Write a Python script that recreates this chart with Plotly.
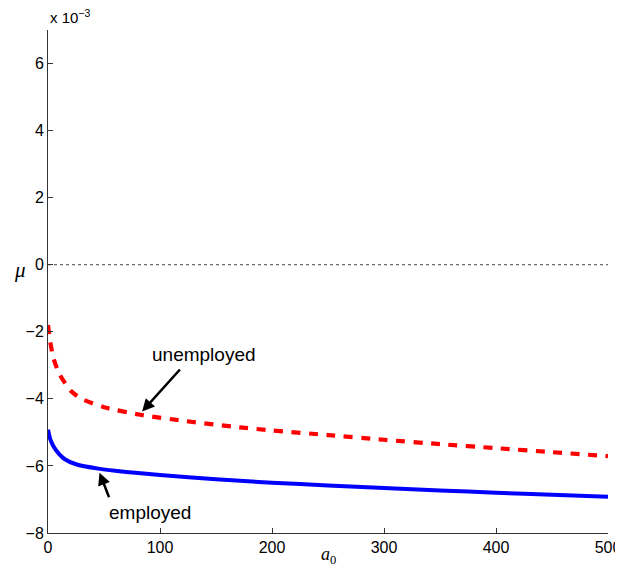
import plotly.graph_objects as go

# a0 grid and mu values (units of 1e-3)
a0_unemp = [0, 2, 5, 10, 20, 30, 50, 85, 120, 171, 200, 250, 300, 350, 400, 450, 500]
mu_unemp = [-1.8, -2.3, -2.8, -3.25, -3.75, -4.0, -4.25, -4.49, -4.65, -4.85, -4.94, -5.08, -5.22, -5.35, -5.47, -5.59, -5.71]

a0_emp = [0, 2, 5, 10, 15, 25, 45, 70, 100, 150, 200, 250, 300, 350, 400, 450, 500]
mu_emp = [-4.92, -5.2, -5.42, -5.65, -5.8, -5.95, -6.08, -6.18, -6.27, -6.4, -6.5, -6.58, -6.66, -6.73, -6.8, -6.86, -6.92]

x_ticks = [0, 100, 200, 300, 400, 500]
y_ticks = [-8, -6, -4, -2, 0, 2, 4, 6]
y_ticklabels = ["\u22128", "\u22126", "\u22124", "\u22122", "0", "2", "4", "6"]

fig = go.Figure()
fig.add_trace(go.Scatter(x=[0, 500], y=[0, 0], mode="lines",
                         line=dict(color="#444", width=1, dash="dot"), hoverinfo="skip"))
fig.add_trace(go.Scatter(x=a0_unemp, y=mu_unemp, mode="lines",
                         line=dict(color="#ff0000", width=4.2, dash="9px,8.5px", shape="spline", smoothing=0.6)))
fig.add_trace(go.Scatter(x=a0_emp, y=mu_emp, mode="lines",
                         line=dict(color="#0000ff", width=4, shape="spline", smoothing=0.6)))

font_ann = dict(family="Liberation Sans, Arial, sans-serif", size=19, color="black")
fig.add_annotation(x=139, y=-2.68, text="unemployed", showarrow=False, font=font_ann, xref="x", yref="y")
fig.add_annotation(x=91, y=-7.38, text="employed", showarrow=False, font=font_ann, xref="x", yref="y")
fig.add_annotation(x=84, y=-4.38, ax=119, ay=-3.08, axref="x", ayref="y", xref="x", yref="y",
                   text="", showarrow=True, arrowhead=2, arrowsize=1, arrowwidth=2.5, arrowcolor="black")
fig.add_annotation(x=46, y=-6.2, ax=55, ay=-6.98, axref="x", ayref="y", xref="x", yref="y",
                   text="", showarrow=True, arrowhead=2, arrowsize=1, arrowwidth=2.5, arrowcolor="black")

fig.add_annotation(x=0, y=1, xref="paper", yref="paper", xanchor="left", yanchor="bottom",
                   text="x 10<sup>\u22123</sup>", showarrow=False,
                   font=dict(family="Liberation Sans, Arial, sans-serif", size=15, color="black"), yshift=2)

PLOT_W, PLOT_H = 560, 503
# axis titles as annotations (mu horizontal, a0 below)
fig.add_annotation(x=-36 / PLOT_W, y=(533 - 270) / PLOT_H, xref="paper", yref="paper",
                   text="<i>\u03bc</i>", showarrow=False,
                   font=dict(family="Liberation Serif, Times New Roman, serif", size=21, color="black"))
fig.add_annotation(x=0.5, y=-22 / PLOT_H, xref="paper", yref="paper", yanchor="middle",
                   text="<i>a</i><sub>0</sub>", showarrow=False,
                   font=dict(family="Liberation Serif, Times New Roman, serif", size=18, color="black"))

axis_common = dict(showgrid=False, zeroline=False, showline=True, linecolor="#333", linewidth=1,
                   ticks="inside", ticklen=5, tickcolor="#333", automargin=False,
                   ticklabeloverflow="allow",
                   tickfont=dict(family="Liberation Sans, Arial, sans-serif", size=16, color="black"))

fig.update_xaxes(range=[0, 500], tickvals=x_ticks, ticktext=[str(v) for v in x_ticks], **axis_common)
fig.update_yaxes(range=[-8, 7], tickvals=y_ticks, ticktext=y_ticklabels, **axis_common)

# page body has an 8px margin; size figure so plot area lands where the reference has it
fig.update_layout(width=615, height=559, showlegend=False,
                  plot_bgcolor="white", paper_bgcolor="white",
                  margin=dict(l=40, r=15, t=22, b=34))

fig.write_html("out.html")
